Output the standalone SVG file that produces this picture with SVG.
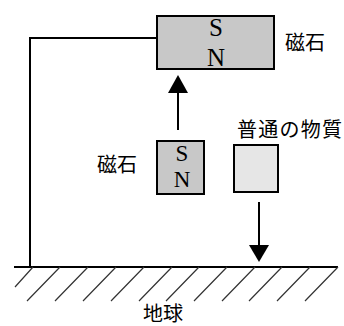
<svg xmlns="http://www.w3.org/2000/svg" width="344" height="326" viewBox="0 0 344 326">
<style>
.box{stroke:#000;stroke-width:2}
.mag{fill:#c8c8c8}
.mat{fill:#e6e6e6}
.pole{font-family:"Liberation Serif",serif;font-size:25px;text-anchor:middle;fill:#000}
.sm{font-size:23px}
.lbl{font-family:"Noto Sans CJK JP","Noto Sans",sans-serif;font-size:20px;fill:#000}
.ln{stroke:#000;stroke-width:2;fill:none}
.hatch{stroke:#333;stroke-width:1.2;fill:none}
</style>
<g id="connectors">
<path class="ln" d="M157,38 H30 V267"/>
<line class="ln" x1="178" y1="130" x2="178" y2="90"/>
<polygon points="178,75 168,93 188,93" fill="#000"/>
<line class="ln" x1="259" y1="202" x2="259" y2="247"/>
<polygon points="259,262 249,245 269,245" fill="#000"/>
</g>
<g id="ground">
<line class="ln" x1="14" y1="267" x2="338" y2="267"/>
<path class="hatch" d="M33,267 L15,287 M60,267 L27,301 M88,267 L55,301 M116,267 L83,301 M144,267 L111,301 M172,267 L139,301 M199,267 L166,301 M227,267 L194,301 M255,267 L222,301 M282,267 L249,301 M310,267 L277,301 M338,267 L305,301"/>
<text class="lbl" x="163" y="321" text-anchor="middle">地球</text>
</g>
<g id="magnet-top">
<rect class="box mag" x="157" y="16" width="117" height="53"/>
<text class="pole" x="216" y="36">S</text>
<text class="pole" x="216" y="66">N</text>
<text class="lbl" x="285" y="50">磁石</text>
</g>
<g id="magnet-small">
<rect class="box mag" x="157" y="141" width="47" height="53"/>
<text class="pole sm" x="182" y="161">S</text>
<text class="pole sm" x="182" y="187">N</text>
<text class="lbl" x="97" y="172">磁石</text>
</g>
<g id="material">
<rect class="box mat" x="234" y="145" width="44" height="47"/>
<text class="lbl" x="237" y="137" textLength="105">普通の物質</text>
</g>
</svg>
